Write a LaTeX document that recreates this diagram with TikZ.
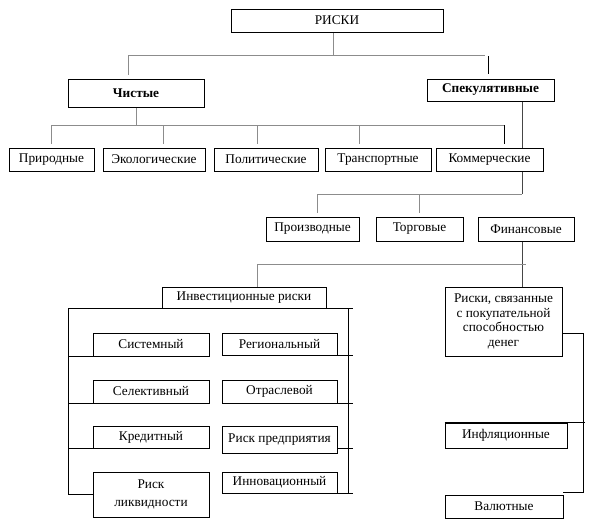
\documentclass[tikz,border=0pt]{standalone}
\usepackage{fontspec}
\setmainfont{Liberation Serif}
\usetikzlibrary{calc}
\pgfdeclarelayer{bg}
\pgfsetlayers{bg,main}
\definecolor{lgray}{RGB}{140,140,140}
\definecolor{dgray}{RGB}{70,70,70}
\begin{document}
\begin{tikzpicture}[x=1pt,y=-1pt,
  box/.style={draw=black,line width=0.8pt,fill=white,inner sep=0pt,
    font=\fontsize{13.3}{14.5}\selectfont,align=center},
  sz/.style 2 args={minimum width=#1pt,minimum height=#2pt},
  gl/.style={draw=lgray,line width=1pt},
  dl/.style={draw=dgray,line width=0.9pt},
  bl/.style={draw=black,line width=0.8pt}]
\useasboundingbox (0,0) rectangle (592,528);
% top
\node[box,sz={212}{23}] (riski) at (337,20.5) {РИСКИ};
\node[box,sz={136}{28},font=\fontsize{13.3}{14.5}\selectfont\bfseries] (chist) at (136,93) {Чистые};
\node[box,sz={127}{22},font=\fontsize{13.3}{14.5}\selectfont\bfseries] (spek) at (490.5,90) {Спекулятивные};
% row 2
\node[box,sz={85}{23}] (prir) at (51.5,159.5) {Природные};
\node[box,sz={102}{23}] (ekol) at (154,159.5) {Экологические};
\node[box,sz={104}{23}] (polit) at (266,159.5) {Политические};
\node[box,sz={106}{23}] (trans) at (378,159.5) {Транспортные};
\node[box,sz={107}{23}] (komm) at (489.5,159.5) {Коммерческие};
% row 3
\node[box,sz={93}{24}] (proizv) at (312.5,229) {Производные};
\node[box,sz={87}{24}] (torg) at (419.5,229) {Торговые};
\node[box,sz={96}{24}] (fin) at (526,229) {Финансовые};
% row 4
\node[box,sz={164}{21}] (invest) at (244,297.5) {Инвестиционные риски};
\node[box,sz={117}{69}] (pokup) at (503.5,321.5) {Риски, связанные\\с покупательной\\способностью\\денег};
% investment subtypes
\node[box,sz={116}{23}] (sist) at (151,344.5) {Системный};
\node[box,sz={116}{23}] (sel) at (151,391.5) {Селективный};
\node[box,sz={116}{22}] (kred) at (151,437) {Кредитный};
\node[box,sz={116}{45}] (likv) at (151,494.5) {Риск\\[3pt]ликвидности};
\node[box,sz={115}{22}] (reg) at (279.5,344) {Региональный};
\node[box,sz={115}{23}] (otr) at (279.5,391.5) {Отраслевой};
\node[box,sz={115}{27}] (predp) at (279.5,439.5) {Риск предприятия};
\node[box,sz={115}{21}] (innov) at (279.5,482.5) {Инновационный};
% purchasing power subtypes
\node[box,sz={122}{25}] (infl) at (506,435.5) {Инфляционные};
\node[box,sz={118}{23}] (val) at (504,506.5) {Валютные};
% bus levels and frame columns
\coordinate (yA) at (0,55);
\coordinate (yB) at (0,125);
\coordinate (yC) at (0,194);
\coordinate (yD) at (0,264);
\coordinate (fl) at (68,0);
\coordinate (fr) at (348,0);
\coordinate (vr) at (583,0);
\begin{pgfonlayer}{bg}
% level 1
\draw[gl] ([xshift=-4pt]riski.south) -- ([xshift=-4pt]riski.south |- yA);
\draw[gl] ([xshift=-8pt,yshift=4pt]chist.north) |- ([xshift=-6pt]spek.north |- yA);
\draw[bl] ([xshift=-2.5pt,yshift=5pt]spek.north) -- ([xshift=-2.5pt]spek.north |- 0,56);
% level 2 (pure)
\draw[gl] (chist.south) -- (chist.south |- yB);
\draw[gl] ([yshift=4pt]prir.north) |- ([xshift=14.5pt]komm.north |- yB);
\draw[gl] ([xshift=9pt,yshift=4pt]ekol.north) -- ([xshift=9pt]ekol.north |- yB);
\draw[gl] ([xshift=-9pt,yshift=4pt]polit.north) -- ([xshift=-9pt]polit.north |- yB);
\draw[gl] ([xshift=-19pt,yshift=4pt]trans.north) -- ([xshift=-19pt]trans.north |- yB);
\draw[bl] ([xshift=14.5pt,yshift=4pt]komm.north) -- ([xshift=14.5pt]komm.north |- yB);
% speculative
\draw[dl] ([xshift=31.5pt]spek.south) -- ([xshift=31.5pt]spek.south |- yC);
\draw[gl] ([xshift=4.5pt,yshift=4pt]proizv.north) |- ([xshift=31.5pt]spek.south |- yC);
\draw[gl] ([yshift=4pt]torg.north) -- (torg.north |- yC);
% financial
\draw[dl] ([xshift=-4pt]fin.south) -- ([xshift=18.5pt]pokup.north);
\draw[gl] ([xshift=13pt]invest.north) |- (fin.south |- yD);
% investment frame
\draw[bl] (fl |- invest.south) -- ([xshift=5pt]fr |- invest.south);
\draw[bl] (fl |- invest.south) -- (fl |- likv.west) -- (likv.west);
\draw[bl] (fr |- invest.south) -- (fr |- innov.south);
\draw[bl] (fl |- sist.south) -- ([xshift=4pt]sist.south west);
\draw[bl] (fl |- sel.south) -- (sel.south west);
\draw[bl] (fl |- kred.south) -- (kred.south west);
\draw[bl] ([xshift=-4pt]reg.south east) -- ([xshift=5pt]fr |- reg.south);
\draw[bl] (otr.south east) -- ([xshift=5pt]fr |- otr.south);
\draw[bl] ([xshift=-4pt,yshift=-9pt]predp.east) -- ([xshift=5pt,yshift=-9pt]fr |- predp.east);
\draw[bl] (innov.south east) -- ([xshift=5pt]fr |- innov.south);
% purchasing power
\draw[bl] ([yshift=-11.5pt]pokup.east) -| ([yshift=2pt]vr |- val.north) -- ([yshift=2pt]val.north east);
\draw[bl] (infl.north west) -- ([xshift=2pt]vr |- infl.north);
\end{pgfonlayer}
\end{tikzpicture}
\end{document}
